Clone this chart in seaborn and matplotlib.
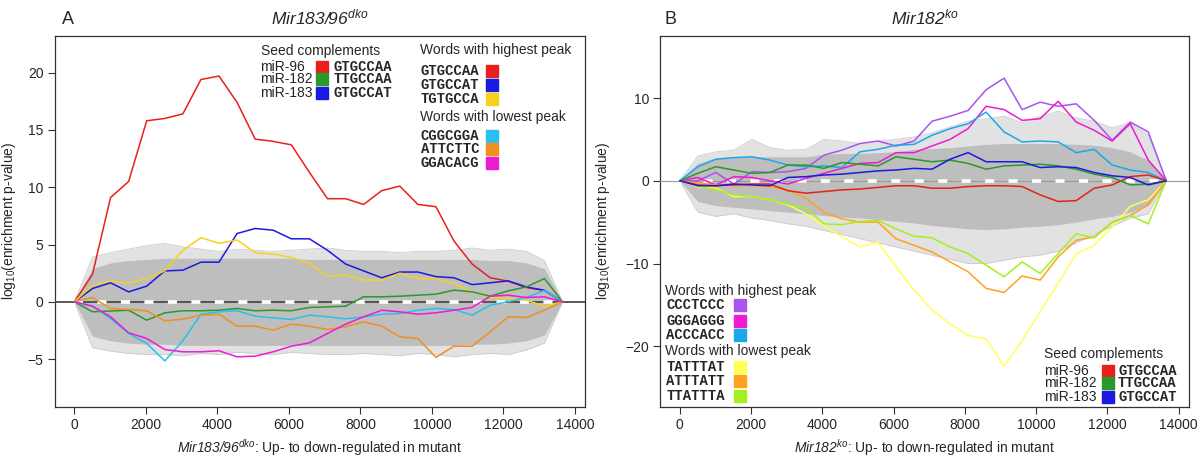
import matplotlib
matplotlib.use("Agg")
import matplotlib.pyplot as plt
import numpy as np
import pandas as pd
import seaborn as sns

# bins along the ranked gene list (up- to down-regulated)
pos = np.linspace(0, 13650, 28)

# ---- panel A : Mir183/96 dko ----
a_red = [0, 2.4, 9.1, 10.5, 15.8, 16.0, 16.4, 19.4, 19.7, 17.4, 14.2, 14.0, 13.7, 11.3,
         9.0, 9.0, 8.5, 9.7, 10.1, 8.5, 8.3, 5.3, 3.3, 2.1, 1.8, 1.25, 1.0, 0]
a_blue = [0, 1.16, 1.66, 0.87, 1.37, 2.7, 2.76, 3.46, 3.46, 5.96, 6.4, 6.25, 5.5, 5.5,
          4.5, 3.3, 2.7, 2.1, 2.6, 2.6, 2.2, 2.1, 1.5, 1.66, 1.83, 1.3, 1.0, 0]
a_yellow = [0, 1.45, 1.83, 1.66, 2.03, 2.7, 4.5, 5.6, 5.1, 5.4, 4.3, 4.16, 3.87, 3.34,
            2.24, 2.33, 1.9, 1.9, 2.5, 2.03, 2.03, 1.6, 0.87, 0.38, 0.3, 0.15, -0.4, 0]
a_green = [0, -0.87, -0.8, -0.73, -1.6, -0.96, -0.78, -0.78, -0.73, -0.58, -0.78, -0.73, -0.78, -0.49,
           -0.44, -0.38, 0.44, 0.44, 0.49, 0.58, 0.67, 1.02, 0.87, 0.49, 0.96, 1.3, 2.03, 0]
a_cyan = [0, -0.38, -1.45, -2.76, -3.63, -5.15, -3.4, -1.08, -0.87, -0.78, -1.25, -1.4, -1.54, -1.16,
          -1.31, -1.48, -1.31, -1.08, -1.02, -0.73, -0.58, -0.67, -1.16, -0.29, 0.0, 0.38, 1.0, 0]
a_orange = [0, 0.38, -0.58, -0.67, -0.78, -1.66, -1.51, -1.16, -1.08, -2.12, -2.12, -2.47, -1.95, -2.12,
            -2.41, -2.18, -1.74, -2.12, -3.05, -3.2, -4.85, -3.87, -3.87, -2.62, -1.31, -1.37, -0.73, 0]
a_magenta = [0, -0.38, -1.3, -2.7, -3.2, -4.16, -4.36, -4.36, -4.27, -4.8, -4.74, -4.36, -3.87, -3.58,
             -2.76, -1.95, -1.31, -0.73, -0.87, -1.08, -0.96, -0.73, -0.49, 0.49, 0.58, 0.38, 0.44, 0]

# envelope of all other words (grey cloud)
a_dense_hi = [0, 2.9, 3.4, 3.6, 3.7, 3.8, 3.8, 3.8, 3.8, 3.8, 3.8, 3.8, 3.8, 3.7,
              3.7, 3.7, 3.7, 3.7, 3.7, 3.7, 3.7, 3.7, 3.7, 3.6, 3.6, 3.4, 2.9, 0]
a_dense_lo = [0, -3.0, -3.4, -3.6, -3.7, -3.7, -3.8, -3.8, -3.8, -3.8, -3.8, -3.8, -3.8, -3.8,
              -3.8, -3.8, -3.8, -3.8, -3.8, -3.8, -3.8, -3.8, -3.7, -3.7, -3.6, -3.4, -2.9, 0]
a_outer_hi = [0, 3.9, 4.3, 4.6, 4.9, 5.1, 4.8, 4.6, 4.4, 4.6, 4.5, 4.4, 4.5, 4.6,
              4.7, 4.5, 4.4, 4.4, 4.3, 4.4, 4.4, 4.5, 4.7, 4.5, 4.6, 4.4, 3.6, 0]
a_outer_lo = [0, -4.0, -4.3, -4.5, -4.6, -4.6, -4.7, -4.5, -4.6, -4.4, -4.5, -4.6, -4.4, -4.5,
              -4.6, -4.6, -4.5, -4.6, -4.7, -4.5, -4.6, -4.8, -4.6, -4.5, -4.6, -4.2, -3.6, 0]

# ---- panel B : Mir182 ko ----
b_purple = [0, 0.0, 1.0, -0.4, 1.1, 1.0, 1.1, 1.5, 3.1, 3.7, 4.5, 4.8, 4.2, 4.8,
            7.2, 7.8, 8.5, 11.0, 12.4, 8.6, 9.5, 9.0, 9.3, 7.3, 4.9, 7.1, 5.9, 0]
b_magenta = [0, 0.4, -0.5, 0.5, 0.4, 0.0, -0.4, 0.3, 0.9, 1.5, 2.1, 2.2, 3.4, 3.4,
             4.2, 5.0, 6.3, 9.0, 8.6, 7.3, 7.5, 9.6, 7.1, 6.1, 4.8, 6.9, 2.5, 0]
b_lblue = [0, 1.7, 2.6, 2.8, 2.9, 2.5, 1.9, 1.7, 1.8, 1.6, 3.5, 3.8, 4.3, 4.4,
           5.5, 6.3, 6.9, 8.3, 5.9, 4.7, 4.8, 4.7, 3.4, 3.8, 1.9, 1.3, 1.0, 0]
b_green = [0, 0.9, 1.7, 1.3, 0.9, 1.0, 1.9, 1.9, 1.5, 2.2, 2.0, 1.8, 2.9, 2.6,
           2.3, 2.5, 2.1, 1.4, 1.8, 1.9, 2.0, 1.8, 1.4, 0.8, 0.4, -0.5, -0.4, 0]
b_blue = [0, -0.6, -0.6, -0.4, -0.5, -0.6, 0.4, 0.5, 0.7, 0.8, 1.0, 1.2, 1.3, 1.5,
          1.4, 2.6, 3.4, 2.3, 2.3, 2.3, 1.6, 1.7, 1.6, 1.0, 0.6, 0.4, -0.5, 0]
b_red = [0, -0.5, -0.6, -0.5, -0.4, -0.4, -1.2, -1.5, -1.3, -1.1, -1.0, -0.8, -0.6, -0.6,
         -0.9, -0.9, -0.7, -0.6, -0.6, -0.7, -1.7, -2.5, -2.4, -0.9, -0.5, 0.5, 0.7, 0]
b_yellow = [0, -0.7, -0.9, -1.9, -1.9, -2.3, -2.9, -4.0, -5.4, -6.8, -8.0, -7.4, -10.4, -13.2,
            -15.6, -17.3, -18.7, -19.1, -22.4, -19.3, -15.8, -12.4, -8.8, -7.8, -5.6, -3.1, -2.3, 0]
b_orange = [0, -0.3, -0.5, -0.6, -0.6, -0.7, -1.1, -2.1, -3.8, -4.6, -5.0, -5.0, -7.0, -7.8,
            -8.6, -9.8, -11.0, -13.0, -13.5, -11.5, -12.0, -9.2, -7.2, -6.8, -5.0, -4.2, -2.9, 0]
b_lime = [0, -0.6, -1.1, -1.7, -1.9, -2.3, -2.8, -3.3, -5.2, -5.3, -4.9, -4.8, -5.8, -6.7,
          -6.9, -8.0, -8.8, -10.2, -11.6, -9.8, -11.2, -8.8, -6.4, -6.9, -5.0, -4.2, -5.2, 0]

b_dense_hi = [0, 2.1, 2.8, 2.9, 2.9, 2.9, 2.9, 2.9, 3.2, 3.3, 3.3, 3.4, 3.5, 3.8,
              3.9, 4.0, 4.2, 4.4, 4.5, 4.5, 4.5, 4.5, 4.4, 4.3, 4.0, 3.5, 2.5, 0]
b_dense_lo = [0, -2.5, -3.0, -3.2, -3.4, -3.6, -3.8, -4.0, -4.2, -4.4, -4.5, -4.7, -4.9, -5.1,
              -5.4, -5.6, -5.8, -5.9, -5.8, -5.6, -5.5, -5.3, -5.0, -4.6, -4.3, -3.8, -3.0, 0]
b_outer_hi = [0, 3.0, 3.5, 3.7, 5.0, 4.0, 3.7, 3.8, 5.0, 4.8, 4.5, 4.8, 5.0, 5.3,
              5.8, 6.5, 7.2, 7.5, 7.8, 7.0, 7.8, 8.4, 7.6, 7.2, 6.4, 7.0, 5.5, 0]
b_outer_lo = [0, -3.8, -4.3, -4.0, -4.5, -4.8, -5.2, -5.5, -6.0, -6.5, -7.0, -7.5, -8.0, -8.5,
              -9.0, -9.5, -10.0, -10.0, -9.6, -9.2, -9.0, -8.5, -7.5, -6.5, -5.5, -4.5, -4.0, 0]

RED, GREEN, BLUE = "#e8201c", "#2a992a", "#1a1ae0"

a_lines = {"GTGCCAA": (a_red, RED), "GTGCCAT": (a_blue, BLUE), "TGTGCCA": (a_yellow, "#f5d21e"),
           "TTGCCAA": (a_green, GREEN), "CGGCGGA": (a_cyan, "#28c0ec"),
           "ATTCTTC": (a_orange, "#f0901e"), "GGACACG": (a_magenta, "#ee1ad6")}
b_lines = {"CCCTCCC": (b_purple, "#a855f0"), "GGGAGGG": (b_magenta, "#ee1ad6"),
           "ACCCACC": (b_lblue, "#1aa8ec"), "TATTTAT": (b_yellow, "#ffff55"),
           "ATTTATT": (b_orange, "#ffa31a"), "TTATTTA": (b_lime, "#a4f01e"),
           "GTGCCAA": (b_red, RED), "TTGCCAA": (b_green, GREEN), "GTGCCAT": (b_blue, BLUE)}

sns.set_style("white")
plt.rcParams["font.family"] = ["Liberation Sans", "DejaVu Sans"]
plt.rcParams["mathtext.fontset"] = "custom"
plt.rcParams["mathtext.rm"] = "Liberation Sans"
plt.rcParams["mathtext.it"] = "Liberation Sans:italic"
# \mathsf is used for fully italic gene names (digits included)
plt.rcParams["mathtext.sf"] = "Liberation Sans:italic"
MONO = dict(family="Liberation Mono", weight="bold", size=10)

fig = plt.figure(figsize=(12.04, 4.61), dpi=100)
axA = fig.add_axes([0.0453, 0.1178, 0.4409, 0.8042])
axB = fig.add_axes([0.5482, 0.1178, 0.4394, 0.8042])


def draw_panel(ax, lines, dense_hi, dense_lo, outer_hi, outer_lo, zero_col, zero_lw):
    ax.fill_between(pos, outer_lo, outer_hi, color="#e2e2e2", lw=0, zorder=1)
    ax.plot(pos, outer_hi, color="#cccccc", lw=0.6, zorder=1)
    ax.plot(pos, outer_lo, color="#cccccc", lw=0.6, zorder=1)
    ax.fill_between(pos, dense_lo, dense_hi, color="#bebebe", lw=0, zorder=2)
    ax.axhline(0, color=zero_col, lw=zero_lw, zorder=3)
    ax.plot([pos[0], pos[-1]], [0, 0], color="white", lw=2.6, ls=(0, (2.5, 4)), zorder=3)
    rows = []
    for word, (vals, col) in lines.items():
        rows += [{"pos": p, "val": v, "word": word} for p, v in zip(pos, vals)]
    df = pd.DataFrame(rows)
    pal = {w: c for w, (v, c) in lines.items()}
    sns.lineplot(data=df, x="pos", y="val", hue="word", palette=pal, lw=1.1,
                 legend=False, ax=ax, zorder=4, sort=False)
    ax.set_xlim(-555, 14290)
    ax.set_xticks(range(0, 14001, 2000))
    ax.tick_params(axis="both", direction="out", length=5, width=0.8, color="#333333",
                   labelsize=10, pad=3, bottom=True, left=True)
    for s in ax.spines.values():
        s.set_color("#333333")
        s.set_linewidth(0.9)


def key(ax, x, y, col):
    ax.plot([x], [y], marker="s", ms=8, color=col, mec=col, transform=ax.transAxes,
            clip_on=False, zorder=6)


draw_panel(axA, a_lines, a_dense_hi, a_dense_lo, a_outer_hi, a_outer_lo, "#4d4d4d", 1.3)
axA.set_ylim(-9.15, 23.2)
axA.set_yticks([-5, 0, 5, 10, 15, 20])
axA.set_ylabel(r"log$_{10}$(enrichment p-value)", fontsize=10)
axA.yaxis.set_label_coords(-0.069, 0.5)
axA.set_xlabel(r"$\mathsf{Mir183/96}^{\mathsf{dko}}$: Up- to down-regulated in mutant", fontsize=10)
axA.set_title(r"$\mathsf{Mir183/96}^{\mathsf{dko}}$", fontsize=12.5, pad=8)

draw_panel(axB, b_lines, b_dense_hi, b_dense_lo, b_outer_hi, b_outer_lo, "#9a9a9a", 0.8)
axB.set_ylim(-27.3, 17.5)
axB.set_yticks([-20, -10, 0, 10])
axB.set_ylabel(r"log$_{10}$(enrichment p-value)", fontsize=10)
axB.yaxis.set_label_coords(-0.091, 0.5)
axB.set_xlabel(r"$\mathsf{Mir182}^{\mathsf{ko}}$: Up- to down-regulated in mutant", fontsize=10)
axB.set_title(r"$\mathsf{Mir182}^{\mathsf{ko}}$", fontsize=12.5, pad=8)

fig.text(0.0515, 0.958, "A", fontsize=13, va="center")
fig.text(0.5515, 0.958, "B", fontsize=13, va="center")

# ---- legends panel A ----
seed_names = ["miR-96", "miR-182", "miR-183"]
seed_words = ["GTGCCAA", "TTGCCAA", "GTGCCAT"]
seed_cols = [RED, GREEN, BLUE]

axA.text(0.388, 0.9604, "Seed complements", transform=axA.transAxes, fontsize=10, va="center")
for name, word, col, y in zip(seed_names, seed_words, seed_cols, [0.917, 0.883, 0.845]):
    axA.text(0.388, y, name, transform=axA.transAxes, fontsize=10, va="center")
    key(axA, 0.5047, y, col)
    axA.text(0.5264, y, word, transform=axA.transAxes, va="center", **MONO)

axA.text(0.688, 0.962, "Words with highest peak", transform=axA.transAxes, fontsize=10, va="center")
axA.text(0.688, 0.7806, "Words with lowest peak", transform=axA.transAxes, fontsize=10, va="center")
for word, y in zip(["GTGCCAA", "GTGCCAT", "TGTGCCA", "CGGCGGA", "ATTCTTC", "GGACACG"],
                   [0.9056, 0.8678, 0.8293, 0.7302, 0.6944, 0.6566]):
    axA.text(0.690, y, word, transform=axA.transAxes, va="center", **MONO)
    key(axA, 0.824, y, a_lines[word][1])

# ---- legends panel B ----
axB.text(0.0095, 0.313, "Words with highest peak", transform=axB.transAxes, fontsize=10, va="center")
axB.text(0.0095, 0.1503, "Words with lowest peak", transform=axB.transAxes, fontsize=10, va="center")
for word, y in zip(["CCCTCCC", "GGGAGGG", "ACCCACC", "TATTTAT", "ATTTATT", "TTATTTA"],
                   [0.2736, 0.2312, 0.1926, 0.1063, 0.0701, 0.0289]):
    axB.text(0.012, y, word, transform=axB.transAxes, va="center", **MONO)
    key(axB, 0.1512, y, b_lines[word][1])

axB.text(0.7259, 0.1422, "Seed complements", transform=axB.transAxes, fontsize=10, va="center")
for name, word, col, y in zip(seed_names, seed_words, seed_cols, [0.0971, 0.0631, 0.0254]):
    axB.text(0.7259, y, name, transform=axB.transAxes, fontsize=10, va="center")
    key(axB, 0.8469, y, col)
    axB.text(0.8658, y, word, transform=axB.transAxes, va="center", **MONO)

fig.savefig("out.png", dpi=100)
